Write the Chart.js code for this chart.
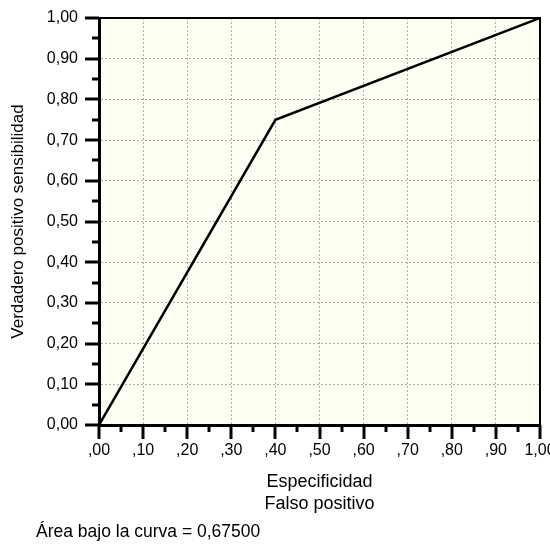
<!DOCTYPE html>
<html>
<head>
<meta charset="utf-8">
<script src="https://cdn.jsdelivr.net/npm/chart.js@4/dist/chart.umd.min.js"></script>
<style>
  html, body { margin: 0; padding: 0; background: #fff; }
  #wrap { position: relative; width: 550px; height: 544px; }
  #pie { position: absolute; left: 36px; top: 521px; font: 17.5px 'Liberation Sans', Arial, sans-serif; line-height: 20px; color: #000; white-space: nowrap; }
</style>
</head>
<body>
<div id="wrap">
  <canvas id="chartROC" width="550" height="544"></canvas>
  <div id="pie">Área bajo la curva = 0,67500</div>
</div>
<script>
// curva ROC : falso positivo / sensibilidad
const falsoPositivo = [0, 0.40, 1.00];
const sensibilidad = [0, 0.75, 1.00];

const xTickLabels = [',00', ',10', ',20', ',30', ',40', ',50', ',60', ',70', ',80', ',90', '1,00'];
const yTickLabels = ['0,00', '0,10', '0,20', '0,30', '0,40', '0,50', '0,60', '0,70', '0,80', '0,90', '1,00'];

const puntos = falsoPositivo.map((x, i) => ({ x: x, y: sensibilidad[i] }));

Chart.defaults.color = '#000';
Chart.defaults.font.family = "'Liberation Sans', Arial, sans-serif";

// fond crème + cadre + graduations
const cadre = {
  id: 'cadre',
  beforeDraw(chart) {
    const a = chart.chartArea;
    const ctx = chart.ctx;
    ctx.save();
    ctx.fillStyle = '#fffef2';
    ctx.fillRect(a.left, a.top, a.right - a.left, a.bottom - a.top);
    ctx.restore();
  },
  afterDraw(chart) {
    const a = chart.chartArea;
    const ctx = chart.ctx;
    const sx = chart.scales.x, sy = chart.scales.y;
    ctx.save();
    ctx.strokeStyle = '#000';
    ctx.lineWidth = 2;
    ctx.beginPath();
    ctx.moveTo(a.left, a.top);
    ctx.lineTo(a.right, a.top);
    ctx.lineTo(a.right, a.bottom);
    ctx.stroke();
    ctx.lineWidth = 3;
    for (let i = 0; i <= 20; i++) {
      const len = i % 2 === 0 ? 14 : 7;
      const py = Math.round(sy.getPixelForValue(i / 20));
      ctx.beginPath();
      ctx.moveTo(a.left - len, py);
      ctx.lineTo(a.left, py);
      ctx.stroke();
      const px = Math.round(sx.getPixelForValue(i / 20));
      ctx.beginPath();
      ctx.moveTo(px, a.bottom);
      ctx.lineTo(px, a.bottom + len);
      ctx.stroke();
    }
    ctx.restore();
  }
};

// pas de marge auto pour les labels qui dépassent
function sansMarge(s) {
  s.paddingTop = 0;
  s.paddingBottom = 0;
  s.paddingLeft = 0;
  s.paddingRight = 0;
}

const ctx = document.getElementById('chartROC').getContext('2d');
new Chart(ctx, {
  type: 'scatter',
  data: {
    datasets: [{
      data: puntos,
      showLine: true,
      borderColor: '#000',
      borderWidth: 2.5,
      pointRadius: 0,
      tension: 0
    }]
  },
  options: {
    responsive: false,
    animation: false,
    layout: { padding: { top: 18, right: 10, left: 0, bottom: 0 } },
    plugins: { legend: { display: false }, tooltip: { enabled: false } },
    scales: {
      x: {
        type: 'linear',
        min: 0, max: 1,
        afterFit: s => { s.height = 119; sansMarge(s); },
        ticks: {
          stepSize: 0.1,
          padding: 16,
          maxRotation: 0,
          font: { size: 16 },
          callback: (v, i) => xTickLabels[i]
        },
        grid: { color: '#aaaaaa', lineWidth: 1, drawTicks: false },
        border: { display: true, color: '#000', width: 3, dash: [2, 2] },
        title: {
          display: true,
          text: ['Especificidad', 'Falso positivo'],
          font: { size: 18, lineHeight: 22 / 18 },
          padding: { top: 0, bottom: 29 }
        }
      },
      y: {
        type: 'linear',
        min: 0, max: 1,
        afterFit: s => { s.width = 99; sansMarge(s); },
        ticks: {
          stepSize: 0.1,
          padding: 21,
          font: { size: 16 },
          callback: (v, i) => yTickLabels[i]
        },
        grid: { color: '#aaaaaa', lineWidth: 1, drawTicks: false },
        border: { display: true, color: '#000', width: 3, dash: [2, 2] },
        title: {
          display: true,
          text: 'Verdadero positivo sensibilidad',
          font: { size: 17 },
          padding: { top: 8, bottom: 0 }
        }
      }
    }
  },
  plugins: [cadre]
});
</script>
</body>
</html>
